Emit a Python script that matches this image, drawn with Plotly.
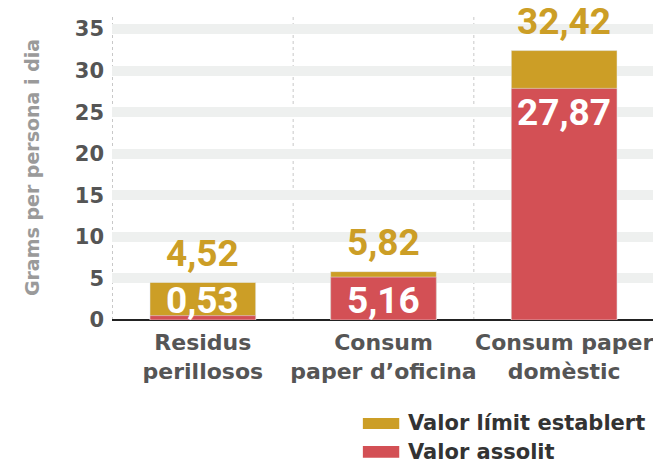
import plotly.graph_objects as go

categories = ["Residus<br>perillosos", "Consum<br>paper d’oficina", "Consum paper<br>domèstic"]
limit_values = [4.52, 5.82, 32.42]
achieved_values = [0.53, 5.16, 27.87]
y_ticks = [0, 5, 10, 15, 20, 25, 30, 35]
series_names = ["Valor límit establert", "Valor assolit"]

GOLD = "#CC9E26"
RED = "#D35055"
LABEL_MIN = 5.2  # inner labels never sit lower than this level

def fmt(v):
    return f"{v:.2f}".replace(".", ",")

fig = go.Figure()
fig.add_trace(go.Bar(x=categories, y=limit_values, marker_color=GOLD, width=0.585,
                     name=series_names[0], showlegend=False, hoverinfo="skip"))
fig.add_trace(go.Bar(x=categories, y=achieved_values, marker_color=RED, width=0.585,
                     name=series_names[1], showlegend=False, hoverinfo="skip"))

label_font = dict(family="Roboto", size=37, weight=700)
annotations = []
for c, v in zip(categories, limit_values):
    annotations.append(dict(x=c, y=v, xref="x", yref="y", text=fmt(v), showarrow=False,
                            yanchor="middle", yshift=29, font=dict(color=GOLD, **label_font)))
for c, v in zip(categories, achieved_values):
    annotations.append(dict(x=c, y=max(v, LABEL_MIN), xref="x", yref="y", text=fmt(v), showarrow=False,
                            yanchor="middle", yshift=-24, font=dict(color="white", **label_font)))

shapes = []
for xb in [-0.5, 0.5, 1.5, 2.5]:
    shapes.append(dict(type="line", xref="x", yref="paper", x0=xb, x1=xb, y0=0, y1=1,
                       line=dict(color="#c8c8c8", width=1, dash="dot"), layer="below"))
# legend swatches
shapes.append(dict(type="rect", xref="paper", yref="paper", x0=0.462, x1=0.529, y0=-0.357, y1=-0.321,
                   fillcolor=GOLD, line_width=0))
shapes.append(dict(type="rect", xref="paper", yref="paper", x0=0.462, x1=0.529, y0=-0.452, y1=-0.413,
                   fillcolor=RED, line_width=0))

legend_font = dict(family="DejaVu Sans", size=21, weight=700, color="#333333")
annotations += [
    dict(xref="paper", yref="paper", x=0.541, y=-0.339, xanchor="left", yanchor="middle",
         text=series_names[0], showarrow=False, font=legend_font),
    dict(xref="paper", yref="paper", x=0.541, y=-0.433, xanchor="left", yanchor="middle",
         text=series_names[1], showarrow=False, font=legend_font),
]

fig.update_layout(
    width=653, height=458,
    margin=dict(l=104, r=6, t=7, b=146, autoexpand=False),
    barmode="overlay",
    paper_bgcolor="white", plot_bgcolor="white",
    shapes=shapes, annotations=annotations,
    showlegend=False,
    font=dict(family="DejaVu Sans"),
)
fig.update_xaxes(showgrid=False, ticks="", showline=False, ticklabelstandoff=7, tickangle=0,
                 tickfont=dict(family="DejaVu Sans", size=22, weight=700, color="#555555"))
fig.update_yaxes(range=[0, 36.7], tickvals=y_ticks, showgrid=True, gridcolor="#EEF0EF", gridwidth=10,
                 zeroline=True, zerolinecolor="#222222", zerolinewidth=2,
                 tickfont=dict(family="DejaVu Sans", size=21, weight=700, color="#555555"),
                 ticks="", ticklabelstandoff=7,
                 title=dict(text="Grams per persona i dia", standoff=30,
                            font=dict(family="DejaVu Sans", size=19, weight=700, color="#9a9a9a")))

fig.write_html("out.html")
